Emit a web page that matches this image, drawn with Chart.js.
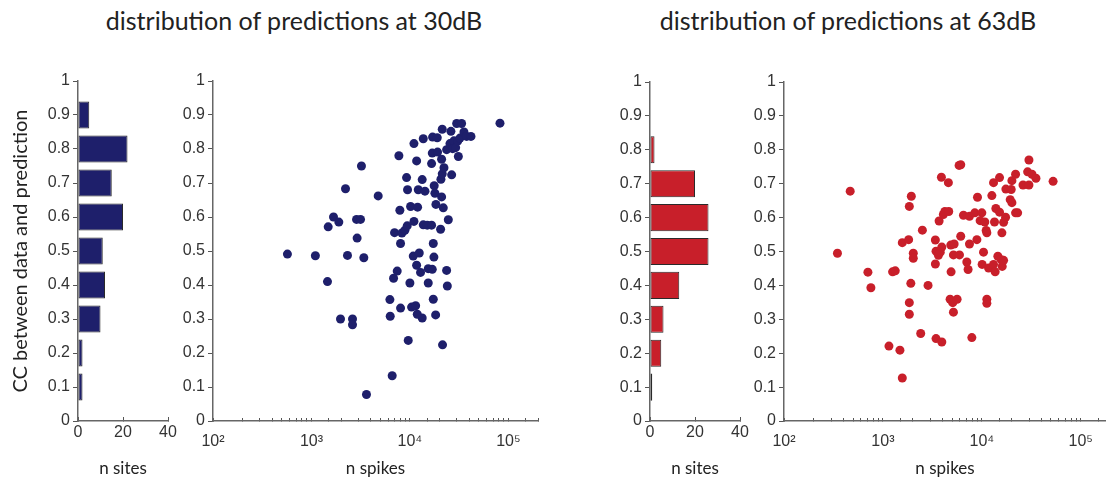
<!DOCTYPE html>
<html>
<head>
<meta charset="utf-8">
<script src="https://cdn.jsdelivr.net/npm/chart.js@4.4.1/dist/chart.umd.min.js"></script>
<style>
  html, body { margin: 0; width: 1106px; height: 483px; background: #fff; overflow: hidden; }
  body { position: relative; }
  canvas { position: absolute; }
  .title { position: absolute; top: 5px; font-family: 'Lato'; font-size: 25px; color: #222; white-space: nowrap; transform: translateX(-50%); }
</style>
</head>
<body>
<div class="title" style="left:294px">distribution of predictions at 30dB</div>
<div class="title" style="left:848px">distribution of predictions at 63dB</div>
<canvas id="hist30" width="190" height="423" style="left:0;top:60px"></canvas>
<canvas id="scat30" width="380" height="423" style="left:180px;top:60px"></canvas>
<canvas id="hist63" width="170" height="423" style="left:590px;top:60px"></canvas>
<canvas id="scat63" width="370" height="423" style="left:750px;top:60px"></canvas>
<script>
// histogram bins (CC between data and prediction)
const ccBins = [0.1, 0.2, 0.3, 0.4, 0.5, 0.6, 0.7, 0.8, 0.9];
const sites30 = [2, 2, 10, 12, 11, 20, 15, 22, 5];
const sites63 = [1, 5, 6, 13, 26, 26, 20, 2, 0];

// scatter: n spikes vs CC, 30dB
const spikes30 = [570, 1096, 1455, 1973, 2612, 2612, 1479, 1675, 1897, 2218, 2323, 2870, 3150, 2910, 3221, 3404,
  3622, 4762, 6262, 6310, 6607, 6823, 6980, 7430, 7727, 7907, 8035, 8035, 8300, 8895, 9247, 9390, 9462, 9620,
  10000, 10160, 10400, 10810, 10990, 10990, 11700, 11700, 11970, 12160, 12450, 12830, 13330, 13330, 13670, 13670,
  14220, 15000, 15350, 15350, 16600, 16870, 16870, 16600, 16990, 17270, 17270, 17530, 17650, 17950, 18250, 18370,
  18950, 19090, 20500, 20990, 20990, 20660, 21300, 21300, 21450, 22180, 21830, 23600, 23990, 24550, 23600, 25530,
  26100, 26550, 27180, 28000, 29130, 29850, 31040, 33500, 30540, 32230, 35400, 37660, 41700, 82200, 11430, 11880];
const cc30 = [0.491, 0.486, 0.41, 0.30, 0.30, 0.283, 0.571, 0.60, 0.585, 0.683, 0.487, 0.593, 0.593, 0.538, 0.75, 0.48,
  0.078, 0.662, 0.357, 0.308, 0.133, 0.42, 0.554, 0.441, 0.78, 0.62, 0.522, 0.332, 0.553, 0.561, 0.716, 0.574, 0.68, 0.237,
  0.406, 0.631, 0.335, 0.485, 0.816, 0.587, 0.765, 0.458, 0.629, 0.68, 0.494, 0.437, 0.303, 0.71, 0.577, 0.83,
  0.676, 0.576, 0.448, 0.406, 0.576, 0.446, 0.788, 0.757, 0.835, 0.358, 0.522, 0.482, 0.692, 0.67, 0.312, 0.637,
  0.833, 0.791, 0.564, 0.77, 0.659, 0.711, 0.727, 0.858, 0.224, 0.745, 0.627, 0.443, 0.397, 0.592, 0.798, 0.816,
  0.852, 0.724, 0.801, 0.824, 0.804, 0.875, 0.778, 0.875, 0.823, 0.832, 0.85, 0.837, 0.837, 0.876, 0.339, 0.314];

// scatter: n spikes vs CC, 63dB
const spikes63 = [347, 467, 705, 756, 1151, 1253, 1333, 1486, 1570, 1570, 1820, 1849, 1849, 1849, 1937, 1915,
  2028, 2028, 2410, 2506, 2860, 3390, 3390, 3443, 3443, 3639, 3698, 3800, 3938, 3938, 4083, 3902, 4230, 4590,
  4630, 4853, 4890, 4780, 5248, 5164, 5080, 5164, 5624, 5943, 5890, 6120, 6120, 6520, 7050, 7260, 7500, 7500,
  7925, 8490, 8910, 9040, 9610, 10000, 10070, 10400, 10720, 11060, 11240, 11240, 11240, 11700, 12630, 13130,
  13430, 13130, 13640, 13860, 14520, 15100, 15100, 15700, 15950, 16070, 16600, 16600, 17380, 17500, 19360,
  19820, 20140, 20140, 21930, 21930, 23020, 26080, 29040, 29940, 29940, 32140, 35240, 52530];
const cc63 = [0.495, 0.678, 0.439, 0.393, 0.221, 0.44, 0.443, 0.209, 0.127, 0.526, 0.535, 0.633, 0.349, 0.315, 0.663, 0.406,
  0.495, 0.48, 0.258, 0.563, 0.40, 0.534, 0.463, 0.501, 0.243, 0.489, 0.59, 0.498, 0.233, 0.513, 0.609, 0.719, 0.618, 0.703,
  0.618, 0.519, 0.44, 0.359, 0.522, 0.49, 0.349, 0.321, 0.359, 0.49, 0.754, 0.756, 0.545, 0.607, 0.469, 0.447, 0.522, 0.604,
  0.246, 0.614, 0.535, 0.66, 0.591, 0.614, 0.462, 0.498, 0.587, 0.562, 0.555, 0.359, 0.347, 0.451, 0.665, 0.462,
  0.587, 0.703, 0.44, 0.627, 0.486, 0.718, 0.616, 0.476, 0.555, 0.456, 0.474, 0.586, 0.601, 0.684, 0.653,
  0.683, 0.709, 0.644, 0.728, 0.614, 0.614, 0.696, 0.735, 0.77, 0.696, 0.728, 0.716, 0.707];

const NAVY = '#1e1f6b';
const RED = '#c81f2a';
const tickFont = {family: 'Liberation Sans', size: 16};
const titleFont = {family: 'Lato', size: 17};
const sup = ['\u2070', '\u00b9', '\u00b2', '\u00b3', '\u2074', '\u2075', '\u2076'];

function ccLabel(v) {
  return String(Math.round(v * 10) / 10);
}

function yScale(width, showTitle) {
  return {
    type: 'linear', min: 0, max: 1, offset: false,
    ticks: {stepSize: 0.1, callback: ccLabel, font: tickFont, color: '#333', padding: 3},
    grid: {drawOnChartArea: false, tickLength: 5, tickColor: '#555', offset: false},
    border: {color: '#666', width: 1.5},
    title: {display: showTitle, text: 'CC between data and prediction', font: {family: 'Lato', size: 20}, color: '#222', padding: {top: 9}},
    afterFit: (s) => { s.width = width; }
  };
}

function histChart(id, counts, color, yWidth, padTop, padRight, showTitle) {
  return new Chart(document.getElementById(id), {
    type: 'bar',
    data: {
      datasets: [{
        data: ccBins.map((c, i) => ({x: counts[i], y: c})),
        backgroundColor: color,
        borderColor: '#2a2a2a',
        borderWidth: 1,
        borderSkipped: false,
        barPercentage: 0.8,
        categoryPercentage: 1
      }]
    },
    options: {
      indexAxis: 'y',
      responsive: false,
      animation: false,
      devicePixelRatio: 1,
      layout: {padding: {top: padTop, right: padRight, left: 0, bottom: 0}},
      plugins: {legend: {display: false}, tooltip: {enabled: false}},
      scales: {
        y: yScale(yWidth, showTitle),
        x: {
          type: 'linear', min: 0, max: 40,
          ticks: {stepSize: 20, font: tickFont, color: '#333', padding: 6},
          grid: {drawOnChartArea: false, tickLength: -4, tickColor: '#555'},
          border: {color: '#666', width: 1.5},
          title: {display: true, text: 'n sites', font: titleFont, color: '#222', padding: {bottom: 4}},
          afterFit: (s) => { s.height = 62; }
        }
      }
    }
  });
}

function scatterChart(id, spikes, cc, color, xMax, yWidth, padTop, padRight) {
  return new Chart(document.getElementById(id), {
    type: 'scatter',
    data: {
      datasets: [{
        data: spikes.map((s, i) => ({x: s, y: cc[i]})),
        backgroundColor: color,
        borderWidth: 0,
        pointRadius: 4.5
      }]
    },
    options: {
      responsive: false,
      animation: false,
      devicePixelRatio: 1,
      layout: {padding: {top: padTop, right: padRight, left: 0, bottom: 0}},
      plugins: {legend: {display: false}, tooltip: {enabled: false}},
      scales: {
        y: yScale(yWidth, false),
        x: {
          type: 'logarithmic', min: 100, max: xMax,
          ticks: {
            autoSkip: false, maxRotation: 0, font: tickFont, color: '#333', padding: 14,
            callback: (v) => {
              const e = Math.round(Math.log10(v));
              return Math.abs(v - Math.pow(10, e)) < 1e-6 ? '10' + sup[e] : '';
            }
          },
          grid: {drawOnChartArea: false, tickLength: -3, tickColor: '#555'},
          border: {color: '#666', width: 1.5},
          title: {display: true, text: 'n spikes', font: titleFont, color: '#222', padding: {bottom: 4}},
          afterFit: (s) => { s.height = 62; }
        }
      }
    }
  });
}

histChart('hist30', sites30, NAVY, 78, 21, 22, true);
scatterChart('scat30', spikes30, cc30, NAVY, 200000, 33, 21, 22);
histChart('hist63', sites63, RED, 60, 22, 20, false);
scatterChart('scat63', spikes63, cc63, RED, 180000, 34, 22, 14);
</script>
</body>
</html>
